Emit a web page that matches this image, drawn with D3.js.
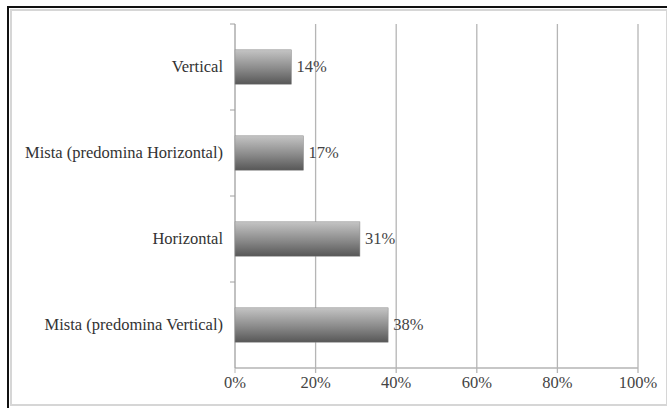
<!DOCTYPE html>
<html>
<head>
<meta charset="utf-8">
<script src="https://cdn.jsdelivr.net/npm/d3@7"></script>
<style>
  body { margin: 0; background: #fff; }
</style>
</head>
<body>
<div id="chart"></div>
<script>
// categories top to bottom, values in percent
const categories = ["Vertical", "Mista (predomina Horizontal)", "Horizontal", "Mista (predomina Vertical)"];
const values = [14, 17, 31, 38];
const tickValues = [0, 20, 40, 60, 80, 100];

const width = 667, height = 408;
const margin = { top: 24, right: 29, bottom: 40, left: 235 };
const font = "'Liberation Serif', 'Times New Roman', serif";

const svg = d3.select("#chart").append("svg")
    .attr("width", width).attr("height", height)
    .attr("font-family", font);

// gradient for the bars, light on top, dark at bottom
const defs = svg.append("defs");
const grad = defs.append("linearGradient").attr("id", "barGrad")
    .attr("x1", 0).attr("y1", 0).attr("x2", 0).attr("y2", 1);
grad.append("stop").attr("offset", "0%").attr("stop-color", "#c4c4c4");
grad.append("stop").attr("offset", "55%").attr("stop-color", "#8a8a8a");
grad.append("stop").attr("offset", "100%").attr("stop-color", "#575757");

// frame
svg.append("rect").attr("x", 11).attr("y", 10).attr("width", width - 11).attr("height", 395)
    .attr("fill", "none").attr("stroke", "#d6d6d6").attr("stroke-width", 2);
svg.append("line").attr("x1", 8).attr("y1", 7).attr("x2", width).attr("y2", 7)
    .attr("stroke", "#111").attr("stroke-width", 2);
svg.append("line").attr("x1", 8).attr("y1", 6).attr("x2", 8).attr("y2", height)
    .attr("stroke", "#111").attr("stroke-width", 2);

const x = d3.scaleLinear().domain([0, 100]).range([margin.left, width - margin.right]);
const y = d3.scaleBand().domain(categories).range([margin.top, height - margin.bottom]).paddingInner(0.6).paddingOuter(0.3);
const yTicks = d3.scaleBand().domain(categories).range([margin.top, height - margin.bottom]);

// gridlines
svg.append("g").selectAll("line").data(tickValues.slice(1)).join("line")
    .attr("x1", d => x(d)).attr("x2", d => x(d))
    .attr("y1", margin.top).attr("y2", height - margin.bottom + 5)
    .attr("stroke", "#b5b5b5").attr("stroke-width", 1.3);

// x axis
svg.append("line").attr("x1", x(0)).attr("x2", x(100))
    .attr("y1", height - margin.bottom).attr("y2", height - margin.bottom)
    .attr("stroke", "#b5b5b5").attr("stroke-width", 1.3);
svg.append("line").attr("x1", x(0)).attr("x2", x(0))
    .attr("y1", height - margin.bottom).attr("y2", height - margin.bottom + 5)
    .attr("stroke", "#b5b5b5");
svg.append("g").selectAll("text").data(tickValues).join("text")
    .attr("x", d => x(d)).attr("y", height - margin.bottom + 20)
    .attr("text-anchor", "middle").attr("font-size", 16.5).attr("fill", "#444")
    .text(d => d + "%");

// y axis line and ticks
svg.append("line").attr("x1", x(0)).attr("x2", x(0))
    .attr("y1", margin.top).attr("y2", height - margin.bottom)
    .attr("stroke", "#a0a0a0").attr("stroke-width", 1.3);
svg.append("g").selectAll("line").data(categories).join("line")
    .attr("x1", x(0) - 5).attr("x2", x(0))
    .attr("y1", d => yTicks(d)).attr("y2", d => yTicks(d))
    .attr("stroke", "#a0a0a0");

// bars
svg.append("g").selectAll("rect").data(values).join("rect")
    .attr("x", x(0)).attr("y", (d, i) => y(categories[i]))
    .attr("width", d => x(d) - x(0)).attr("height", y.bandwidth())
    .attr("fill", "url(#barGrad)").attr("stroke", "#8a8a8a").attr("stroke-width", 0.5);

// value labels
svg.append("g").selectAll("text").data(values).join("text")
    .attr("x", d => x(d) + 5).attr("y", (d, i) => y(categories[i]) + y.bandwidth() / 2 + 5)
    .attr("font-size", 16.5).attr("fill", "#444").text(d => d + "%");

// category labels
svg.append("g").selectAll("text").data(categories).join("text")
    .attr("x", x(0) - 12).attr("y", d => yTicks(d) + yTicks.bandwidth() / 2 + 5)
    .attr("text-anchor", "end").attr("font-size", 16.5).attr("fill", "#333").text(d => d);
</script>
</body>
</html>
